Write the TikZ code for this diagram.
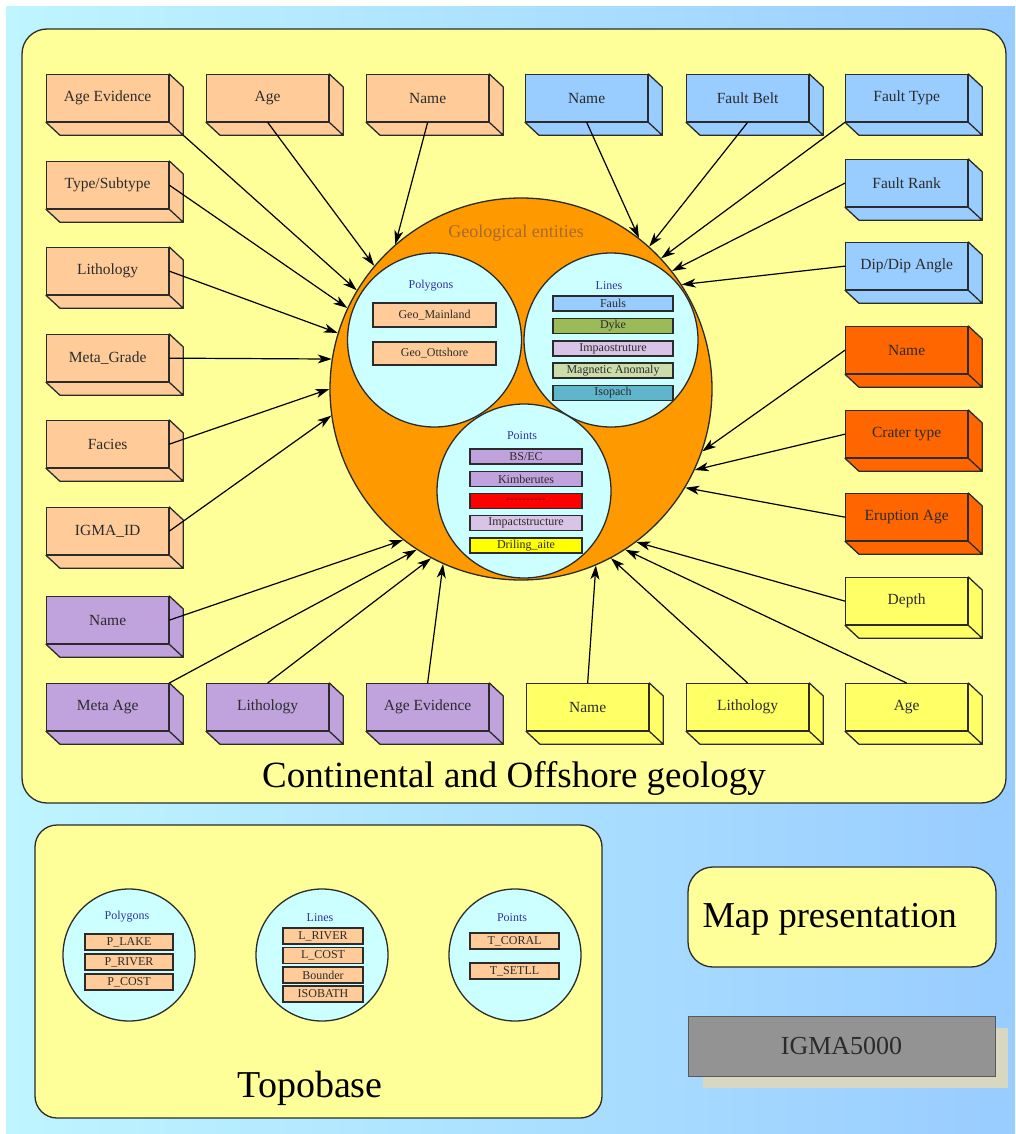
\documentclass[tikz,border=0pt]{standalone}
\usepackage{fontspec}
\setmainfont{Liberation Serif}
\usetikzlibrary{arrows.meta}

\definecolor{bgleft}{HTML}{BFF5FF}
\definecolor{bgright}{HTML}{99CCFF}
\definecolor{panel}{HTML}{FFFF99}
\definecolor{peach}{HTML}{FFCC99}
\definecolor{faultblue}{HTML}{99CCFF}
\definecolor{crater}{HTML}{FF6600}
\definecolor{metapurple}{HTML}{C0A3DD}
\definecolor{lemon}{HTML}{FFFF66}
\definecolor{geoorange}{HTML}{FF9900}
\definecolor{aqua}{HTML}{CCFFFF}
\definecolor{ink}{HTML}{2B2B2B}
\definecolor{labelblue}{HTML}{333399}
\definecolor{entitybrown}{HTML}{A86A2E}
\definecolor{dykegreen}{HTML}{9BBB59}
\definecolor{lilac}{HTML}{D9C3E6}
\definecolor{sage}{HTML}{CCDDAA}
\definecolor{isoteal}{HTML}{5FB6CB}
\definecolor{drillyellow}{HTML}{FFFF00}
\definecolor{dashred}{HTML}{5A0000}
\definecolor{slab}{HTML}{939393}
\definecolor{slabshadow}{HTML}{D8D8C0}

\tikzset{
  geobox/.style={draw=ink, line width=1.3pt, fill=#1, minimum width=122pt, minimum height=47pt,
    anchor=north west, inner sep=0pt, font=\fontsize{15.5}{18}\selectfont, text=ink},
  boxside/.style={draw=ink, line width=1.3pt, line join=round},
  link/.style={draw=black, line width=1.2pt, -{Stealth[length=14pt,width=9pt,inset=4pt]}},
  layer/.style={circle, draw=ink, line width=1.3pt, fill=aqua},
  item/.style={draw=ink, line width=1.3pt, fill=#1, inner sep=0pt, font=\fontsize{12}{14}\selectfont, text=ink},
  grouplabel/.style={font=\fontsize{12}{14}\selectfont, text=labelblue},
  panelbox/.style={draw=ink, line width=1.3pt, fill=panel, rounded corners=25pt},
}

\begin{document}
\begin{tikzpicture}[x=1pt,y=-1pt]
    \useasboundingbox (0,0) rectangle (1015,1134);
    % Background and panels
    \fill[white] (0,0) rectangle (1015,1134);
    \shade[left color=bgleft, right color=bgright] (6,7) rectangle (1015,1134);
    \draw[panelbox] (22,29) rectangle (1006,803);
    \draw[panelbox, rounded corners=22pt] (35,825) rectangle (602,1118);
    \draw[panelbox] (688,867) rectangle (996,967);
    \fill[slabshadow] (703,1028) rectangle (1008,1088);

    % Attribute boxes, left and top
    \node[geobox=peach] (pEvid) at (46,74) {Age Evidence};
    \node[geobox=peach] (pAge) at (206,74) {Age};
    \node[geobox=peach] (pName) at (366,74) {Name};
    \node[geobox=peach] (pType) at (46,161) {Type/Subtype};
    \node[geobox=peach] (pLith) at (46,247) {Lithology};
    \node[geobox=peach] (pGrade) at (46,334) {Meta\_Grade};
    \node[geobox=peach] (pFacies) at (46,420) {Facies};
    \node[geobox=peach] (pId) at (46,507) {IGMA\_ID};
    \node[geobox=faultblue] (bName) at (525,74) {Name};
    \node[geobox=faultblue] (bBelt) at (686,74) {Fault Belt};
    \node[geobox=faultblue] (bType) at (845,74) {Fault Type};
    \node[geobox=faultblue] (bRank) at (845,159) {Fault Rank};
    \node[geobox=faultblue] (bDip) at (845,242) {Dip/Dip Angle};
    % Attribute boxes, right and bottom
    \node[geobox=crater] (cName) at (845,326) {Name};
    \node[geobox=crater] (cType) at (845,410) {Crater type};
    \node[geobox=crater] (cAge) at (845,493) {Eruption Age};
    \node[geobox=lemon] (yDepth) at (845,577) {Depth};
    \node[geobox=lemon] (yAge) at (845,683) {Age};
    \node[geobox=lemon] (yLith) at (686,683) {Lithology};
    \node[geobox=lemon] (yName) at (526,683) {Name};
    \node[geobox=metapurple] (mEvid) at (366,683) {Age Evidence};
    \node[geobox=metapurple] (mLith) at (206,683) {Lithology};
    \node[geobox=metapurple] (mAge) at (46,683) {Meta Age};
    \node[geobox=metapurple] (mName) at (46,596) {Name};

    % Side and bottom faces of the boxes
    \foreach \b/\c in {pEvid/peach, pAge/peach, pName/peach, pType/peach, pLith/peach,
        pGrade/peach, pFacies/peach, pId/peach, bName/faultblue, bBelt/faultblue,
        bType/faultblue, bRank/faultblue, bDip/faultblue, cName/crater, cType/crater,
        cAge/crater, yDepth/lemon, yAge/lemon, yLith/lemon, yName/lemon,
        mEvid/metapurple, mLith/metapurple, mAge/metapurple, mName/metapurple}
      \draw[boxside, fill=\c] (\b.south west) -- ++(14,13) -| ([shift={(14,13)}]\b.north east)
        -- (\b.north east) -- (\b.south east) -- cycle (\b.south east) -- ++(14,13);

    % Geological entities
    \node[circle, draw=ink, line width=1.3pt, fill=geoorange, minimum size=382pt] (geo) at (521,389) {};
    \node[font=\fontsize{18}{20}\selectfont, text=entitybrown] (geotitle) at (516,233) {Geological entities};
    \node[layer, minimum size=174pt] (polys) at (434.5,340) {};
    \node[layer, minimum size=174pt] (lines) at (611,340) {};
    \node[layer, minimum size=174pt] (points) at (524,491) {};
    \node[grouplabel] (polyslabel) at (431,286) {Polygons};
    \node[grouplabel] (lineslabel) at (609,286) {Lines};
    \node[grouplabel] (pointslabel) at (522,436) {Points};
    \node[item=peach, minimum width=123pt, minimum height=24pt] (mainland) at (434.5,315) {Geo\_Mainland};
    \node[item=peach, minimum width=123pt, minimum height=23pt] (offshore) at (434.5,353.5) {Geo\_Ottshore};
    \node[item=faultblue, minimum width=120pt, minimum height=15pt] (fauls) at (613,303.5) {Fauls};
    \node[item=dykegreen, minimum width=120pt, minimum height=15pt] (dyke) at (613,326) {Dyke};
    \node[item=lilac, minimum width=120pt, minimum height=15pt] (impao) at (613,348.5) {Impaostruture};
    \node[item=sage, minimum width=120pt, minimum height=15pt] (magnetic) at (613,370.5) {Magnetic Anomaly};
    \node[item=isoteal, minimum width=120pt, minimum height=15pt] (isopach) at (613,393) {Isopach};
    \node[item=metapurple, minimum width=112pt, minimum height=15pt] (bsec) at (526,456.5) {BS/EC};
    \node[item=metapurple, minimum width=112pt, minimum height=15pt] (kimber) at (526,479) {Kimberutes};
    \node[item=red, minimum width=112pt, minimum height=15pt, text=dashred] (blank) at (526,501) {-{}-{}-{}-{}-{}-{}-{}-{}-{}-};
    \node[item=lilac, minimum width=112pt, minimum height=15pt] (impact) at (526,523) {Impactstructure};
    \node[item=drillyellow, minimum width=112pt, minimum height=15pt] (drill) at (526,545.5) {Driling\_aite};

    % Arrows into the entities
    \draw[link] ([shift={(14,13)}]pEvid.south east) -- (geo.149);
    \draw[link] (pAge.south) -- (geo.140);
    \draw[link] (pName.south) -- (geo.131);
    \draw[link] (pType.east) -- (geo.155);
    \draw[link] (pLith.east) -- (geo.163);
    \draw[link] (pGrade.east) -- (geo.171);
    \draw[link] (pFacies.east) -- (geo.180);
    \draw[link] (pId.east) -- (geo.188);
    \draw[link] (mName.east) -- (geo.232);
    \draw[link] (mAge.north east) -- (geo.237);
    \draw[link] (mLith.north) -- (geo.242);
    \draw[link] (mEvid.north) -- (geo.246);
    \draw[link] (yName.north) -- (geo.293);
    \draw[link] (yLith.north) -- (geo.298);
    \draw[link] (yAge.north) -- (geo.303);
    \draw[link] (yDepth.west) -- (geo.307);
    \draw[link] (cAge.west) -- (geo.329);
    \draw[link] (cType.west) -- (geo.335);
    \draw[link] (cName.west) -- (geo.341);
    \draw[link] (bDip.west) -- (geo.33);
    \draw[link] (bRank.west) -- (geo.38);
    \draw[link] (bType.south west) -- (geo.43.5);
    \draw[link] (bBelt.south) -- (geo.48);
    \draw[link] (bName.south) -- (geo.52);

    \node[anchor=base, font=\fontsize{37}{40}\selectfont, text=black] (contgeo) at (514,787) {Continental and Offshore geology};

    % Topobase
    \node[layer, minimum size=132pt] (tpolys) at (129,955) {};
    \node[layer, minimum size=132pt] (tlines) at (322,955) {};
    \node[layer, minimum size=132pt] (tpoints) at (515,955) {};
    \node[grouplabel] (tpolyslabel) at (127,917) {Polygons};
    \node[grouplabel] (tlineslabel) at (320,918) {Lines};
    \node[grouplabel] (tpointslabel) at (512,918) {Points};
    \node[item=peach, minimum width=88pt, minimum height=16pt] (plake) at (129,942) {P\_LAKE};
    \node[item=peach, minimum width=88pt, minimum height=16pt] (priver) at (129,962) {P\_RIVER};
    \node[item=peach, minimum width=88pt, minimum height=16pt] (pcost) at (129,982) {P\_COST};
    \node[item=peach, minimum width=80pt, minimum height=16pt] (lriver) at (323,936) {L\_RIVER};
    \node[item=peach, minimum width=80pt, minimum height=16pt] (lcost) at (323,955.5) {L\_COST};
    \node[item=peach, minimum width=80pt, minimum height=16pt] (bounder) at (323,975) {Bounder};
    \node[item=peach, minimum width=80pt, minimum height=16pt] (isobath) at (323,994) {ISOBATH};
    \node[item=peach, minimum width=89pt, minimum height=16pt] (tcoral) at (514.5,941) {T\_CORAL};
    \node[item=peach, minimum width=89pt, minimum height=16pt] (tsetll) at (514.5,971) {T\_SETLL};
    \node[anchor=base, font=\fontsize{38}{40}\selectfont] (topobase) at (310,1097) {Topobase};

    % Map presentation and IGMA5000
    \node[anchor=base west, font=\fontsize{36.5}{40}\selectfont] (mappres) at (699,927) {Map presentation};
    \node[draw=gray!70!black, line width=0.8pt, fill=slab, minimum width=307pt, minimum height=60pt,
      font=\fontsize{26}{30}\selectfont, text=ink] (igma) at (841.5,1046) {IGMA5000};
\end{tikzpicture}
\end{document}
